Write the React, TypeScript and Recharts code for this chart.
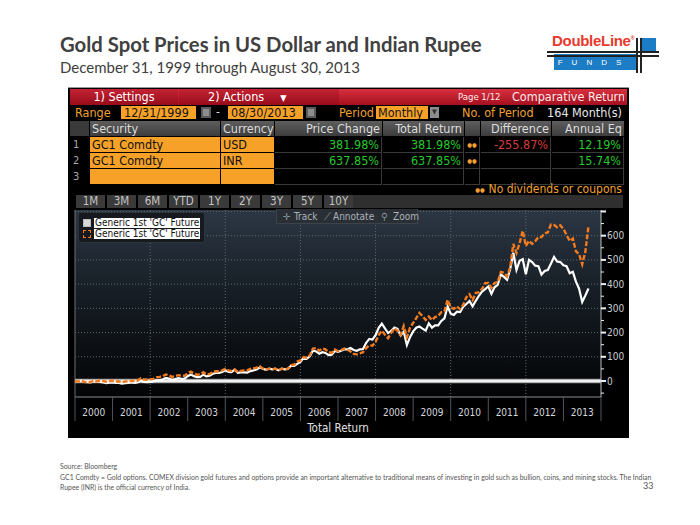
import React from 'react'
import { LineChart, Line, XAxis, YAxis, CartesianGrid, ReferenceLine, Legend } from 'recharts'

// month-end total return (%), first point = 31 Dec 1999, last = Aug 2013
const usdReturn = [
  0,
  -2, 1, -4, -5, -6, -1, -4, -4, -6, -9, -7, -6,
  -8, -8, -11, -9, -8, -6, -8, -6, 1, -4, -5, -4,
  -2, 3, 4, 6, 13, 10, 5, 8, 12, 9, 10, 20,
  27, 20, 16, 17, 26, 19, 22, 30, 33, 33, 37, 44,
  38, 37, 47, 34, 36, 36, 35, 41, 44, 48, 56, 51,
  46, 51, 48, 51, 44, 51, 48, 50, 63, 62, 71, 79,
  96, 92, 102, 126, 122, 113, 119, 116, 107, 109, 124, 120,
  125, 131, 131, 136, 128, 125, 131, 132, 158, 174, 171, 189,
  220, 237, 217, 198, 207, 221, 215, 188, 204, 148, 181, 205,
  220, 225, 216, 208, 238, 220, 230, 230, 248, 259, 308, 278,
  273, 286, 285, 307, 318, 330, 308, 331, 352, 369, 379, 391,
  360, 387, 397, 440, 430, 418, 462, 530, 459, 496, 503, 441,
  500, 491, 476, 474, 439, 454, 458, 484, 512, 493, 491, 478,
  474, 445, 451, 410, 381, 326, 353, 382,
]

const inrReturn = [
  0,
  -2, 1, -4, -5, -4, 2, -2, 1, 0, -3, 0, 1,
  -2, -1, -5, -2, -1, 1, 0, 2, 11, 6, 5, 7,
  9, 15, 17, 20, 27, 23, 17, 20, 24, 22, 22, 32,
  39, 31, 26, 27, 36, 28, 29, 37, 40, 39, 44, 50,
  44, 42, 48, 37, 42, 44, 44, 50, 52, 55, 61, 51,
  47, 51, 49, 51, 44, 51, 48, 51, 65, 68, 80, 85,
  99, 96, 106, 134, 136, 125, 134, 131, 119, 116, 130, 123,
  128, 134, 129, 122, 112, 110, 114, 119, 136, 148, 146, 162,
  190, 208, 191, 177, 199, 217, 208, 190, 227, 181, 220, 240,
  260, 281, 268, 252, 266, 252, 264, 269, 284, 288, 335, 304,
  298, 308, 297, 315, 346, 358, 334, 364, 366, 380, 404, 405,
  385, 405, 409, 450, 447, 432, 470, 566, 529, 569, 620, 558,
  579, 566, 577, 594, 594, 610, 613, 646, 644, 635, 643, 628,
  603, 578, 588, 535, 524, 482, 534, 638,
]

const yearLabels = ['2000', '2001', '2002', '2003', '2004', '2005', '2006', '2007', '2008', '2009', '2010', '2011', '2012', '2013']
const gridYears = [2002, 2004, 2006, 2008, 2010, 2012]
const gridReturns = [100, 200, 300, 400, 500, 600, 700]
const returnTicks = [-50, 0, 50, 100, 150, 200, 250, 300, 350, 400, 450, 500, 550, 600, 650, 700]
const seriesNames = ["Generic 1st 'GC' Future", "Generic 1st 'GC' Future"]

const tableHead = ['Security', 'Currency', 'Price Change', 'Total Return', '', 'Difference', 'Annual Eq']
const tableRows = [
  { n: '1', security: 'GC1 Comdty', currency: 'USD', price: '381.98%', total: '381.98%', dots: true, diff: '-255.87%', annual: '12.19%' },
  { n: '2', security: 'GC1 Comdty', currency: 'INR', price: '637.85%', total: '637.85%', dots: true, diff: '', annual: '15.74%' },
  { n: '3', security: '', currency: '', price: '', total: '', dots: false, diff: '', annual: '' },
]
const periodButtons = ['1M', '3M', '6M', 'YTD', '1Y', '2Y', '3Y', '5Y', '10Y']

const data = usdReturn.map((usd, i) => ({ t: Number(yearLabels[0]) + i / 12, usd, inr: inrReturn[i] }))
const xTicks = [...yearLabels.flatMap((y) => [Number(y), Number(y) + 0.5]), Number(yearLabels[yearLabels.length - 1]) + 1]

const BB = "'Liberation Sans Narrow', 'DejaVu Sans Condensed', 'Arial Narrow', sans-serif"
const SLIDE = "Lato, 'Open Sans', sans-serif"
const ORANGE = '#f7a128'
const AMBER = '#f0a030'
const GREEN = '#27c92e'

function Box({ l, t, w, h, bg, color, align, size, pad, children, style }: any) {
  return (
    <div
      style={{
        position: 'absolute', left: l, top: t, width: w, height: h, background: bg,
        color, textAlign: align || 'left', fontSize: size || 12, lineHeight: h + 'px',
        whiteSpace: 'nowrap', overflow: 'hidden', boxSizing: 'border-box',
        padding: pad || 0, ...style,
      }}
    >
      {children}
    </div>
  )
}

function YearTick({ x, y, payload }: any) {
  const v = payload.value
  if (Number.isInteger(v)) {
    return <line x1={x} x2={x} y1={y} y2={y + 24} stroke="#50565c" />
  }
  return (
    <text x={x} y={y + 19} textAnchor="middle" fill="#d4d8dc" fontSize={10} fontFamily={BB}>
      {Math.floor(v)}
    </text>
  )
}

function ReturnTick({ x, y, payload }: any) {
  const v = payload.value
  const major = v % 100 === 0
  return (
    <g>
      <line x1={x} x2={x + (major ? 5 : 3)} y1={y} y2={y} stroke="#eeeeee" strokeWidth={major ? 2 : 1} />
      {major && v >= 0 && v <= 600 && (
        <text x={x + 6} y={y + 3.5} fill="#c9ced3" fontSize={10} fontFamily={BB}>{v}</text>
      )}
    </g>
  )
}

function SeriesLegend({ payload }: any) {
  return (
    <div style={{ background: '#161a1e', border: '1px solid #2e343a', borderRadius: 3, padding: '4px 4px 3px 4px', fontFamily: BB }}>
      {(payload || []).map((p: any, i: number) => (
        <div key={i} style={{ display: 'flex', alignItems: 'center', height: 11 }}>
          <span
            style={{
              display: 'inline-block', width: 8, height: 8, marginRight: 3, boxSizing: 'border-box',
              background: p.dataKey === 'usd' ? '#d9d9d9' : 'transparent',
              border: p.dataKey === 'usd' ? '1px solid #bbbbbb' : '1.5px dashed #f07a1e',
            }}
          />
          <span style={{ background: '#ffffff', color: '#111', fontSize: 10, lineHeight: '10px', padding: '0 1px' }}>{p.value}</span>
        </div>
      ))}
    </div>
  )
}

function GoldChart() {
  return (
    <LineChart width={560} height={230} data={data} margin={{ top: 5, right: 0, bottom: 0, left: 7 }}>
      <defs>
        <linearGradient id="plotBg" x1="0" y1="0" x2="0" y2="1">
          <stop offset="0%" stopColor="#2c3744" />
          <stop offset="45%" stopColor="#161d24" />
          <stop offset="100%" stopColor="#030405" />
        </linearGradient>
      </defs>
      <CartesianGrid horizontal={false} vertical={false} fill="url(#plotBg)" />
      <XAxis
        dataKey="t"
        type="number"
        domain={[2000, 2014]}
        ticks={xTicks}
        interval={0}
        tick={<YearTick />}
        tickLine={false}
        tickSize={0}
        tickMargin={0}
        height={38}
        axisLine={{ stroke: '#8a9096' }}
        label={{ value: 'Total Return', position: 'insideBottom', offset: 3, fill: '#e0e0e0', fontSize: 11.5, fontFamily: BB }}
      />
      <YAxis
        orientation="right"
        type="number"
        domain={[-66, 706]}
        ticks={returnTicks}
        interval={0}
        tick={<ReturnTick />}
        tickLine={false}
        tickSize={0}
        tickMargin={0}
        width={27}
        axisLine={{ stroke: '#b8bec4' }}
      />
      {gridReturns.map((v) => (
        <ReferenceLine key={'h' + v} y={v} stroke="#5d6873" strokeDasharray="1 2" />
      ))}
      {gridYears.map((v) => (
        <ReferenceLine key={'v' + v} x={v} stroke="#5d6873" strokeDasharray="1 2" />
      ))}
      <ReferenceLine x={2000} stroke="#6a7076" />
      <ReferenceLine y={0} stroke="#9a9a9a" strokeWidth={4.5} />
      <ReferenceLine y={0} stroke="#f2f2f2" strokeWidth={2.5} />
      <Legend
        content={<SeriesLegend />}
        layout="vertical"
        align="center"
        verticalAlign="middle"
        wrapperStyle={{ left: 10, top: 7, width: 'auto', height: 'auto' }}
      />
      <Line type="linear" dataKey="usd" name={seriesNames[0]} stroke="#ffffff" strokeWidth={2.2} dot={false} isAnimationActive={false} />
      <Line type="linear" dataKey="inr" name={seriesNames[1]} stroke="#f27a1f" strokeWidth={2.4} strokeDasharray="5 2" dot={false} isAnimationActive={false} />
    </LineChart>
  )
}

function Terminal() {
  const headCells = [
    { l: 90, w: 130, align: 'left' },
    { l: 221, w: 53, align: 'left' },
    { l: 275, w: 107, align: 'right' },
    { l: 383, w: 81, align: 'right' },
    { l: 465, w: 15, align: 'left' },
    { l: 481, w: 70, align: 'right' },
    { l: 552, w: 72, align: 'right' },
  ]
  const toolText = { overflow: 'visible' }
  return (
    <div style={{ position: 'absolute', left: 0, top: 0, width: 700, height: 525, fontFamily: BB }}>
      <div style={{ position: 'absolute', left: 68, top: 87, width: 561, height: 350, background: '#000', borderTop: '1px solid #9a9a9a' }} />
      {/* title bar */}
      <Box l={70} t={89} w={557} h={16} bg="linear-gradient(#d8303f, #a5101f)" />
      <Box l={70} t={89} w={108} h={16} bg="linear-gradient(#c42334, #980c1a)" color="#fff" align="center" size={12.5}>1) Settings</Box>
      <Box l={179} t={89} w={160} h={16} bg="linear-gradient(#c42334, #980c1a)" color="#fff" size={12.5} pad="0 0 0 29px">2) Actions<span style={{ marginLeft: 16, fontSize: 9 }}>▼</span></Box>
      <Box l={458} t={89} w={50} h={16} color="#ffe8ea" size={9.5}>Page 1/12</Box>
      <Box l={512} t={89} w={112} h={16} color="#ffe8ea" size={12.5}>Comparative Return</Box>
      {/* range row */}
      <Box l={75} t={106} w={44} h={14} color={AMBER} size={12.5}>Range</Box>
      <Box l={121} t={106} w={75} h={13} bg={ORANGE} color="#141414" size={12.5} pad="0 0 0 3px">12/31/1999</Box>
      <Box l={201} t={107} w={10} h={11} bg="#8d8d8d" style={{ border: '2px solid #5a5a5a' }} />
      <Box l={216} t={106} w={8} h={13} color="#ddd" size={12}>-</Box>
      <Box l={228} t={106} w={75} h={13} bg={ORANGE} color="#141414" size={12.5} pad="0 0 0 3px">08/30/2013</Box>
      <Box l={306} t={107} w={10} h={11} bg="#8d8d8d" style={{ border: '2px solid #5a5a5a' }} />
      <Box l={330} t={106} w={44} h={14} color={AMBER} size={12.5} align="right">Period</Box>
      <Box l={376} t={106} w={52} h={13} bg={ORANGE} color="#141414" size={12.5} pad="0 0 0 2px">Monthly</Box>
      <Box l={430} t={107} w={9} h={11} bg="#8d8d8d" color="#333" size={7} align="center">▼</Box>
      <Box l={462} t={106} w={80} h={14} color={AMBER} size={12.5}>No. of Period</Box>
      <Box l={540} t={106} w={82} h={14} color="#e8e8e8" size={12.5} align="right">164 Month(s)</Box>
      {/* table header */}
      <Box l={70} t={121} w={19} h={15} bg="#3a3a3a" />
      {headCells.map((c, i) => (
        <Box key={i} l={c.l} t={121} w={c.w} h={15} bg="linear-gradient(#5e5e5e, #3c3c3c)" color="#dcdcdc" size={12.5} align={c.align} pad="0 2px">
          {tableHead[i]}
        </Box>
      ))}
      {/* table rows */}
      {tableRows.map((r, i) => {
        const t = 137 + i * 16
        const cellStyle = { borderRight: '1px solid #3a3a3a', borderBottom: '1px solid #3a3a3a' }
        return (
          <React.Fragment key={i}>
            <Box l={70} t={t} w={19} h={15} color="#a8a8a8" size={11} pad="0 0 0 3px">{r.n}</Box>
            <Box l={90} t={t} w={130} h={15} bg={ORANGE} color="#111" size={12.5} pad="0 0 0 2px">{r.security}</Box>
            <Box l={221} t={t} w={53} h={15} bg={ORANGE} color="#111" size={12.5} pad="0 0 0 2px">{r.currency}</Box>
            <Box l={275} t={t} w={107} h={16} color={GREEN} size={12.5} align="right" pad="0 2px" style={cellStyle}>{r.price}</Box>
            <Box l={383} t={t} w={81} h={16} color={GREEN} size={12.5} align="right" pad="0 2px" style={cellStyle}>{r.total}</Box>
            <Box l={465} t={t} w={15} h={16} color={AMBER} size={6} align="center" style={cellStyle}>{r.dots ? '●●' : ''}</Box>
            <Box l={481} t={t} w={70} h={16} color="#d83a3a" size={12.5} align="right" pad="0 2px" style={cellStyle}>{r.diff}</Box>
            <Box l={552} t={t} w={72} h={16} color={GREEN} size={12.5} align="right" pad="0 2px" style={cellStyle}>{r.annual}</Box>
          </React.Fragment>
        )
      })}
      <Box l={420} t={183} w={202} h={13} color={AMBER} size={12} align="right"><span style={{ fontSize: 6, marginRight: 4, verticalAlign: 'middle' }}>●●</span>No dividends or coupons</Box>
      {/* period buttons */}
      {periodButtons.map((b, i) => (
        <Box key={b} l={76 + i * 31} t={195} w={29} h={13} bg="#3a3a3a" color="#c4c4c4" size={11.5} align="center">{b}</Box>
      ))}
      <Box l={353} t={195} w={270} h={13} bg="#2f2f2f" />
      {/* chart */}
      <div style={{ position: 'absolute', left: 68, top: 205 }}>
        <GoldChart />
      </div>
      <Box l={276} t={209} w={142} h={15} bg="#2a2f35" style={{ border: '1px solid #3c434a', borderTop: 'none' }} />
      <Box l={283} t={209} w={10} h={15} color="#8f979f" size={10} style={toolText}>✛</Box>
      <Box l={294} t={209} w={28} h={15} color="#aab2ba" size={10} style={toolText}>Track</Box>
      <Box l={324} t={209} w={8} h={15} color="#8f979f" size={10} style={toolText}>⟋</Box>
      <Box l={333} t={209} w={44} h={15} color="#aab2ba" size={10} style={toolText}>Annotate</Box>
      <Box l={381} t={209} w={10} h={15} color="#8f979f" size={10} style={toolText}>⚲</Box>
      <Box l={393} t={209} w={24} h={15} color="#aab2ba" size={10} style={toolText}>Zoom</Box>
    </div>
  )
}

export default function App() {
  return (
    <div style={{ position: 'absolute', left: 0, top: 0, width: 700, height: 525, background: '#fff', overflow: 'hidden' }}>
      <div style={{ position: 'absolute', left: 60, top: 32, fontFamily: SLIDE, fontWeight: 700, fontSize: 20.3, color: '#404040', whiteSpace: 'nowrap' }}>
        Gold Spot Prices in US Dollar and Indian Rupee
      </div>
      <div style={{ position: 'absolute', left: 60, top: 58, fontFamily: SLIDE, fontSize: 15, color: '#404040', whiteSpace: 'nowrap' }}>
        December 31, 1999 through August 30, 2013
      </div>
      {/* logo */}
      <div style={{ position: 'absolute', left: 552, top: 32, fontFamily: "'Liberation Sans', sans-serif", fontWeight: 700, fontSize: 15, color: '#e8392c', letterSpacing: -0.3 }}>
        DoubleLine<sup style={{ fontSize: 5 }}>®</sup>
      </div>
      <div style={{ position: 'absolute', left: 554, top: 54, width: 82, height: 16, background: '#1c7cc4' }} />
      <div style={{ position: 'absolute', left: 641, top: 38, width: 15, height: 14, background: '#1c7cc4' }} />
      <div style={{ position: 'absolute', left: 547, top: 51, width: 112, height: 1.5, background: '#222' }} />
      <div style={{ position: 'absolute', left: 547, top: 55, width: 112, height: 1.5, background: '#222' }} />
      <div style={{ position: 'absolute', left: 636, top: 38, width: 1.5, height: 35, background: '#222' }} />
      <div style={{ position: 'absolute', left: 640, top: 38, width: 1.5, height: 35, background: '#222' }} />
      <div style={{ position: 'absolute', left: 554, top: 58, width: 80, textAlign: 'center', fontFamily: "'Liberation Sans', sans-serif", fontSize: 8, color: '#fff', letterSpacing: 9, lineHeight: '10px' }}>
        FUNDS
      </div>
      <Terminal />
      {/* footer */}
      <div style={{ position: 'absolute', left: 60, top: 461, fontFamily: SLIDE, fontSize: 6.9, lineHeight: '10.5px', color: '#555', whiteSpace: 'nowrap' }}>
        Source: Bloomberg<br />
        GC1 Comdty = Gold options. COMEX division gold futures and options provide an important alternative to traditional means of investing in gold such as bullion, coins, and mining stocks. The Indian<br />
        Rupee (INR) is the official currency of India.
      </div>
      <div style={{ position: 'absolute', left: 643, top: 480, fontFamily: SLIDE, fontSize: 9, color: '#555' }}>33</div>
    </div>
  )
}
